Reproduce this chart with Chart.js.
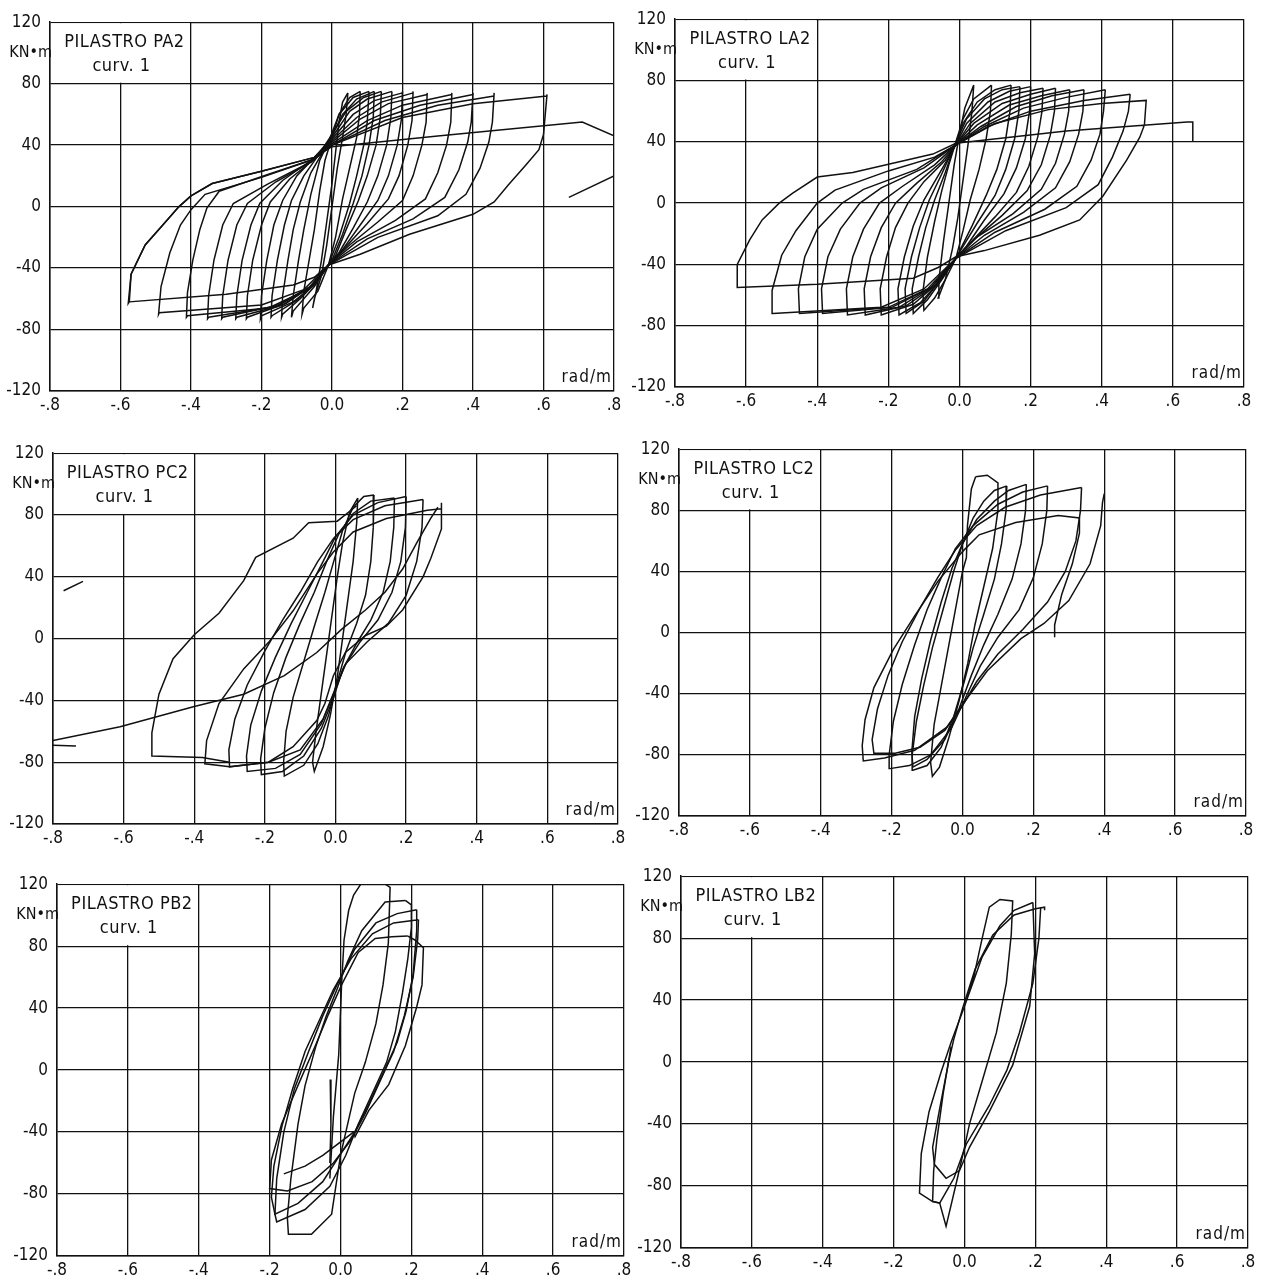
<!DOCTYPE html>
<html>
<head>
<meta charset="utf-8">
<script src="https://cdn.jsdelivr.net/npm/chart.js@4.4.0/dist/chart.umd.min.js"></script>
<style>
html, body { margin: 0; padding: 0; background: #fff; }
body { width: 1271px; height: 1283px; position: relative; overflow: hidden; }
.pan { position: absolute; }
</style>
</head>
<body>
<script>
// titoli e assi
var panelTitles = ["PILASTRO PA2", "PILASTRO LA2", "PILASTRO PC2", "PILASTRO LC2", "PILASTRO PB2", "PILASTRO LB2"];
var curveLabel = "curv. 1";
var xTickValues = [-0.8, -0.6, -0.4, -0.2, 0, 0.2, 0.4, 0.6, 0.8];
var xTickLabels = ["-.8", "-.6", "-.4", "-.2", "0.0", ".2", ".4", ".6", ".8"];
var yTickValues = [-120, -80, -40, 0, 40, 80, 120];
var yTickLabels = ["-120", "-80", "-40", "0", "40", "80", "120"];
var yUnit = "KN\u2022m";
var xUnit = "rad/m";

// cicli momento-curvatura [curvatura, momento]
var pa2Loops = [
  [[0.045,74],[0.04,60],[0.03,45],[0.015,25],[0.0,0],[-0.015,-25],[-0.03,-45],[-0.05,-60],[-0.055,-66],[-0.045,-55],[-0.03,-35],[-0.015,-10],[0.0,15],[0.01,35],[0.02,55],[0.03,68],[0.045,74]],
  [[0.08,75],[0.078,60],[0.07,45],[0.05,25],[0.03,5],[0.01,-20],[-0.01,-38],[-0.04,-55],[-0.08,-66],[-0.085,-70],[-0.08,-55],[-0.065,-35],[-0.05,-15],[-0.035,10],[-0.02,30],[0.0,45],[0.02,60],[0.05,71],[0.08,75]],
  [[0.105,75],[0.1,55],[0.09,40],[0.07,20],[0.05,2],[0.02,-20],[-0.01,-38],[-0.05,-52],[-0.11,-68],[-0.115,-72],[-0.11,-58],[-0.095,-35],[-0.08,-15],[-0.06,8],[-0.035,30],[-0.01,42],[0.02,60],[0.06,71],[0.105,75]],
  [[0.12,75],[0.117,58],[0.105,40],[0.085,20],[0.06,2],[0.03,-18],[0.0,-35],[-0.04,-48],[-0.09,-60],[-0.14,-70],[-0.143,-72],[-0.14,-58],[-0.125,-35],[-0.11,-15],[-0.09,3],[-0.06,22],[-0.03,34],[0.0,46],[0.03,60],[0.07,70],[0.12,75]],
  [[0.14,75],[0.137,58],[0.125,40],[0.1,20],[0.075,4],[0.04,-15],[0.01,-32],[-0.01,-38],[-0.05,-50],[-0.1,-61],[-0.17,-71],[-0.173,-72],[-0.17,-58],[-0.155,-35],[-0.135,-12],[-0.115,4],[-0.08,20],[-0.04,33],[0.0,47],[0.04,62],[0.09,71],[0.14,75]],
  [[0.17,75],[0.167,58],[0.155,40],[0.13,20],[0.1,3],[0.06,-14],[0.02,-30],[-0.01,-38],[-0.05,-51],[-0.11,-62],[-0.2,-71],[-0.203,-73],[-0.2,-58],[-0.185,-35],[-0.165,-12],[-0.14,4],[-0.1,20],[-0.05,32],[0.0,45],[0.05,62],[0.1,70],[0.17,75]],
  [[0.2,75],[0.197,57],[0.185,40],[0.16,20],[0.13,4],[0.08,-12],[0.03,-28],[-0.01,-38],[-0.06,-52],[-0.13,-63],[-0.24,-72],[-0.243,-73],[-0.24,-58],[-0.225,-35],[-0.2,-12],[-0.175,3],[-0.12,18],[-0.05,31],[0.0,44],[0.06,60],[0.12,69],[0.2,74]],
  [[0.23,75],[0.227,56],[0.215,40],[0.19,20],[0.16,5],[0.1,-11],[0.04,-26],[-0.01,-38],[-0.06,-52],[-0.14,-64],[-0.27,-72],[-0.273,-73],[-0.27,-58],[-0.255,-35],[-0.23,-12],[-0.205,2],[-0.14,17],[-0.06,30],[0.0,43],[0.07,58],[0.14,68],[0.23,74]],
  [[0.27,74],[0.267,55],[0.255,40],[0.23,20],[0.2,4],[0.13,-10],[0.05,-25],[-0.01,-38],[-0.06,-52],[-0.15,-64],[-0.31,-72],[-0.313,-73],[-0.31,-58],[-0.295,-35],[-0.27,-12],[-0.24,2],[-0.16,16],[-0.06,29],[0.0,42],[0.08,57],[0.16,67],[0.27,73]],
  [[0.34,74],[0.337,55],[0.325,40],[0.3,22],[0.265,5],[0.18,-9],[0.07,-23],[-0.01,-38],[-0.06,-52],[-0.16,-65],[-0.35,-72],[-0.353,-73],[-0.35,-58],[-0.335,-35],[-0.31,-12],[-0.28,2],[-0.18,15],[-0.06,29],[0.0,41],[0.1,56],[0.2,66],[0.34,73]],
  [[0.4,74],[0.395,55],[0.385,42],[0.36,24],[0.32,6],[0.23,-8],[0.1,-21],[-0.01,-38],[-0.07,-54],[-0.18,-66],[-0.41,-71],[-0.413,-72],[-0.41,-56],[-0.395,-35],[-0.375,-15],[-0.355,-1],[-0.32,10],[-0.18,21],[-0.05,31],[0.0,40],[0.12,56],[0.25,66],[0.4,73]],
  [[0.46,74],[0.455,55],[0.445,42],[0.42,25],[0.38,8],[0.3,-6],[0.13,-20],[-0.01,-38],[-0.08,-54],[-0.2,-64],[-0.49,-69],[-0.492,-70],[-0.485,-52],[-0.46,-30],[-0.43,-12],[-0.4,-2],[-0.36,8],[-0.2,19],[-0.05,31],[0.0,40],[0.15,56],[0.3,66],[0.46,72]],
  [[0.61,73],[0.605,60],[0.6,47],[0.587,37],[0.55,27],[0.5,14],[0.46,3],[0.4,-5],[0.22,-18],[0.08,-31],[-0.01,-38],[-0.05,-46],[-0.11,-51],[-0.3,-57],[-0.575,-62],[-0.578,-63],[-0.57,-44],[-0.53,-25],[-0.48,-12],[-0.434,0],[-0.4,7],[-0.34,15],[-0.2,23],[-0.05,32],[0.0,40],[0.2,58],[0.4,67],[0.61,72]],
  [[-0.575,-62],[-0.57,-44],[-0.53,-25],[-0.48,-12],[-0.434,0],[-0.4,7],[-0.34,15],[-0.2,23],[-0.05,32],[0.0,39],[0.3,46],[0.71,55],[0.8,46]],
  [[0.672,6],[0.8,20]]
];

var la2Loops = [
  [[0.04,77],[0.035,60],[0.025,40],[0.01,15],[-0.005,-10],[-0.02,-30],[-0.04,-50],[-0.06,-62],[-0.058,-50],[-0.045,-25],[-0.03,0],[-0.015,25],[0.0,45],[0.015,62],[0.04,77]],
  [[0.09,77],[0.087,60],[0.075,42],[0.055,22],[0.03,2],[0.01,-18],[-0.01,-36],[-0.04,-50],[-0.07,-62],[-0.1,-70],[-0.103,-58],[-0.09,-35],[-0.07,-12],[-0.05,8],[-0.03,25],[-0.01,40],[0.01,55],[0.04,68],[0.09,77]],
  [[0.145,77],[0.142,60],[0.13,42],[0.105,22],[0.075,5],[0.035,-15],[-0.01,-36],[-0.05,-50],[-0.09,-63],[-0.13,-72],[-0.133,-56],[-0.115,-35],[-0.095,-16],[-0.07,2],[-0.04,20],[-0.015,37],[0.01,52],[0.05,66],[0.1,74],[0.145,77]],
  [[0.17,76],[0.167,60],[0.155,42],[0.13,22],[0.1,5],[0.05,-13],[0.0,-32],[-0.01,-36],[-0.06,-52],[-0.1,-64],[-0.15,-72],[-0.153,-56],[-0.135,-35],[-0.112,-16],[-0.085,2],[-0.05,19],[-0.015,37],[0.02,55],[0.07,68],[0.12,74],[0.17,76]],
  [[0.2,76],[0.197,60],[0.185,42],[0.16,23],[0.125,6],[0.07,-11],[0.02,-28],[-0.01,-36],[-0.06,-52],[-0.11,-65],[-0.17,-73],[-0.173,-56],[-0.155,-35],[-0.13,-15],[-0.1,2],[-0.06,18],[-0.015,36],[0.02,52],[0.08,66],[0.14,73],[0.2,76]],
  [[0.235,75],[0.232,60],[0.22,43],[0.195,24],[0.16,7],[0.1,-9],[0.03,-26],[-0.01,-36],[-0.07,-54],[-0.13,-66],[-0.22,-73],[-0.223,-56],[-0.205,-35],[-0.18,-16],[-0.145,0],[-0.1,14],[-0.04,28],[-0.01,38],[0.03,52],[0.1,66],[0.17,72],[0.235,75]],
  [[0.27,75],[0.267,60],[0.255,44],[0.23,25],[0.19,8],[0.12,-8],[0.04,-24],[-0.01,-36],[-0.07,-54],[-0.15,-67],[-0.265,-73],[-0.268,-56],[-0.25,-35],[-0.22,-16],[-0.18,0],[-0.12,13],[-0.05,27],[-0.01,38],[0.04,52],[0.12,65],[0.2,71],[0.27,75]],
  [[0.31,74],[0.307,60],[0.295,45],[0.27,26],[0.23,9],[0.15,-7],[0.05,-22],[-0.01,-36],[-0.08,-55],[-0.17,-68],[-0.315,-73],[-0.318,-56],[-0.3,-35],[-0.27,-17],[-0.225,0],[-0.16,11],[-0.07,25],[-0.01,38],[0.05,51],[0.14,64],[0.23,70],[0.31,74]],
  [[0.35,74],[0.347,60],[0.335,45],[0.31,27],[0.27,10],[0.18,-6],[0.07,-21],[-0.01,-36],[-0.08,-55],[-0.19,-68],[-0.385,-72],[-0.388,-56],[-0.37,-35],[-0.335,-17],[-0.28,0],[-0.22,10],[-0.1,23],[-0.01,38],[0.06,50],[0.16,63],[0.26,70],[0.35,74]],
  [[0.41,74],[0.405,60],[0.395,45],[0.37,28],[0.33,11],[0.24,-4],[0.1,-19],[-0.01,-36],[-0.09,-56],[-0.2,-68],[-0.45,-72],[-0.453,-56],[-0.435,-35],[-0.4,-17],[-0.33,0],[-0.27,9],[-0.12,22],[-0.01,38],[0.07,50],[0.18,62],[0.3,69],[0.41,74]],
  [[0.48,71],[0.475,60],[0.46,47],[0.43,30],[0.39,12],[0.3,-3],[0.13,-18],[-0.01,-36],[-0.1,-56],[-0.22,-68],[-0.525,-72],[-0.527,-57],[-0.5,-34],[-0.46,-18],[-0.4,0],[-0.35,8.5],[-0.2,21],[-0.07,30],[-0.01,38],[0.08,50],[0.2,60],[0.35,67],[0.48,71]],
  [[-0.01,38],[0.1,52],[0.25,61],[0.4,65],[0.525,67],[0.52,51],[0.507,43],[0.47,28],[0.403,4.5],[0.338,-11],[0.225,-21],[0.07,-31],[-0.01,-35],[-0.06,-42],[-0.13,-49],[-0.4,-53],[-0.625,-55],[-0.625,-40],[-0.59,-24],[-0.555,-11],[-0.507,0],[-0.47,6.4],[-0.4,17],[-0.3,20],[-0.075,32],[-0.01,39],[0.3,47],[0.64,53],[0.656,53],[0.656,40]]
];

var pc2Loops = [
  [[0.063,91],[0.06,75],[0.05,50],[0.035,25],[0.02,0],[0.005,-25],[-0.015,-50],[-0.035,-70],[-0.06,-86],[-0.065,-80],[-0.055,-60],[-0.04,-35],[-0.025,-10],[-0.01,15],[0.005,40],[0.02,62],[0.04,82],[0.063,91]],
  [[0.109,93],[0.107,72],[0.1,50],[0.085,28],[0.06,10],[0.03,-8],[0.005,-28],[-0.02,-50],[-0.05,-68],[-0.09,-82],[-0.145,-89],[-0.147,-80],[-0.14,-60],[-0.12,-38],[-0.09,-15],[-0.06,8],[-0.03,30],[-0.005,50],[0.02,70],[0.05,85],[0.08,92],[0.109,93]],
  [[0.167,91],[0.165,72],[0.155,50],[0.135,30],[0.1,12],[0.06,-3],[0.02,-20],[-0.005,-38],[-0.04,-58],[-0.09,-76],[-0.15,-86],[-0.21,-88],[-0.212,-78],[-0.2,-58],[-0.175,-35],[-0.14,-12],[-0.1,10],[-0.06,30],[-0.025,50],[0.01,68],[0.05,81],[0.1,89],[0.167,91]],
  [[0.2,92],[0.198,72],[0.185,50],[0.16,30],[0.12,12],[0.07,-2],[0.025,-18],[-0.005,-36],[-0.04,-55],[-0.1,-75],[-0.17,-84],[-0.25,-86],[-0.252,-76],[-0.24,-56],[-0.21,-34],[-0.17,-12],[-0.125,10],[-0.08,30],[-0.035,50],[0.0,66],[0.05,80],[0.12,88],[0.2,92]],
  [[0.248,90],[0.245,72],[0.23,50],[0.2,28],[0.15,10],[0.09,-2],[0.03,-16],[0.0,-32],[-0.035,-52],[-0.1,-72],[-0.19,-80],[-0.3,-83],[-0.302,-72],[-0.285,-52],[-0.25,-30],[-0.2,-8],[-0.15,12],[-0.1,30],[-0.05,50],[-0.005,65],[0.05,77],[0.14,86],[0.248,90]],
  [[0.3,88],[0.3,71],[0.27,52],[0.248,40],[0.19,18.5],[0.144,8],[0.085,2],[0.028,-9],[-0.006,-24],[-0.03,-42],[-0.053,-53],[-0.12,-70],[-0.19,-80],[-0.3,-83],[-0.37,-81],[-0.365,-66],[-0.33,-42],[-0.26,-19.6],[-0.19,-2.6],[-0.12,18],[-0.053,41.7],[-0.006,56],[0.05,69],[0.144,77.7],[0.26,83],[0.3,84]],
  [[0.06,86],[0.005,76],[-0.076,75],[-0.12,65],[-0.226,52.6],[-0.26,37.5],[-0.33,16.4],[-0.4,2.5],[-0.46,-13],[-0.5,-36],[-0.52,-61],[-0.52,-76],[-0.377,-77],[-0.3,-80]],
  [[-0.8,-66],[-0.61,-57],[-0.4,-44],[-0.26,-36],[-0.145,-24],[-0.053,-9],[0.017,6],[0.085,18.5],[0.14,30],[0.19,45],[0.23,62],[0.27,78],[0.29,85]],
  [[-0.77,31],[-0.715,37]],
  [[-0.8,-69],[-0.735,-69.5]]
];

var lc2Loops = [
  [[0.037,102],[0.07,103],[0.1,98],[0.1,80],[0.085,55],[0.06,30],[0.035,5],[0.015,-20],[-0.01,-45],[-0.04,-70],[-0.065,-88],[-0.085,-94],[-0.09,-85],[-0.08,-60],[-0.06,-35],[-0.04,-10],[-0.02,15],[0.0,40],[0.011,49],[0.014,70],[0.025,94],[0.037,102]],
  [[0.125,96],[0.123,80],[0.11,58],[0.09,35],[0.06,12],[0.03,-10],[0.005,-32],[-0.025,-55],[-0.06,-75],[-0.1,-87],[-0.14,-90],[-0.142,-80],[-0.13,-58],[-0.11,-35],[-0.085,-10],[-0.055,15],[-0.025,40],[0.0,58],[0.03,75],[0.06,86],[0.09,93],[0.125,96]],
  [[0.18,97],[0.178,80],[0.165,58],[0.14,35],[0.1,12],[0.06,-8],[0.025,-28],[-0.01,-50],[-0.05,-70],[-0.1,-83],[-0.14,-88],[-0.143,-78],[-0.135,-55],[-0.115,-30],[-0.09,-5],[-0.06,20],[-0.03,42],[0.0,58],[0.04,74],[0.09,86],[0.13,93],[0.18,97]],
  [[0.24,96],[0.238,80],[0.225,58],[0.2,36],[0.16,15],[0.1,-3],[0.05,-22],[0.01,-42],[-0.03,-62],[-0.09,-80],[-0.15,-87],[-0.205,-89],[-0.207,-80],[-0.195,-58],[-0.17,-34],[-0.135,-8],[-0.1,15],[-0.06,36],[-0.02,55],[0.03,70],[0.1,84],[0.17,92],[0.24,96]],
  [[0.336,95],[0.333,80],[0.32,60],[0.29,40],[0.24,20],[0.17,2],[0.1,-14],[0.04,-32],[0.0,-48],[-0.05,-64],[-0.12,-75],[-0.19,-79],[-0.25,-79],[-0.255,-70],[-0.24,-50],[-0.21,-28],[-0.17,-6],[-0.12,16],[-0.07,36],[-0.02,54],[0.04,70],[0.12,82],[0.22,90],[0.336,95]],
  [[0.4,91],[0.395,85],[0.39,70],[0.36,45],[0.3,21],[0.23,6],[0.165,-4],[0.07,-25],[0.0,-47],[-0.045,-62],[-0.135,-77],[-0.22,-82],[-0.28,-84],[-0.283,-74],[-0.275,-57],[-0.25,-36],[-0.195,-11],[-0.135,11],[-0.068,34],[0.0,53],[0.047,64],[0.15,72],[0.27,76.6],[0.33,75],[0.33,65],[0.31,45],[0.28,25],[0.26,5],[0.26,-3]]
];

var pb2Loops = [
  [[-0.03,-70],[-0.02,-30],[-0.005,10],[0.003,55],[0.01,84],[0.023,103],[0.037,113],[0.06,121],[0.12,121],[0.14,118],[0.135,82],[0.12,55],[0.1,30],[0.07,5],[0.04,-15],[0.02,-35],[0.0,-55],[-0.025,-93],[-0.082,-106],[-0.147,-106],[-0.15,-95],[-0.14,-70],[-0.12,-35],[-0.1,-10],[-0.07,15],[-0.04,35],[-0.01,52],[0.02,70],[0.06,90],[0.126,108.5],[0.183,109.5]],
  [[0.183,109.5],[0.2,106.6],[0.2,92],[0.19,72],[0.175,50],[0.155,25],[0.13,5],[0.09,-15],[0.05,-35],[0.015,-55],[-0.03,-75],[-0.1,-90],[-0.18,-98],[-0.185,-93],[-0.18,-70],[-0.16,-40],[-0.13,-12],[-0.09,12],[-0.05,35],[-0.01,55],[0.04,78],[0.1,95],[0.16,101],[0.215,103.5]],
  [[0.215,103.5],[0.215,90],[0.205,62],[0.185,38],[0.16,18],[0.12,-2],[0.08,-22],[0.04,-40],[-0.005,-56],[-0.05,-72],[-0.12,-86],[-0.185,-93],[-0.195,-82],[-0.188,-62],[-0.165,-36],[-0.135,-12],[-0.1,12],[-0.06,32],[-0.02,52],[0.03,72],[0.09,88],[0.15,95],[0.22,97]],
  [[0.22,97],[0.218,85],[0.205,60],[0.18,35],[0.15,12],[0.11,-8],[0.07,-28],[0.03,-45],[-0.02,-60],[-0.08,-72],[-0.15,-78],[-0.2,-76.5],[-0.195,-58],[-0.166,-34.6],[-0.119,-9.4],[-0.071,15.7],[-0.034,36],[0.003,55],[0.05,76],[0.098,85],[0.145,86],[0.19,86.5]],
  [[0.19,86.5],[0.21,84],[0.234,79],[0.23,55],[0.215,40.7],[0.183,15.7],[0.136,-9.4],[0.08,-26],[0.041,-43],[0.037,-40],[-0.05,-55],[-0.1,-62],[-0.16,-67]],
  [[-0.029,-6],[-0.027,-35],[-0.03,-60]]
];

var lb2Loops = [
  [[-0.038,12.7],[0.0,36],[0.028,57],[0.05,80],[0.07,100],[0.1,105],[0.136,104],[0.132,82.5],[0.118,51],[0.09,19],[0.052,-10.6],[0.014,-40],[0.0,-55],[-0.02,-75],[-0.052,-106],[-0.07,-91],[-0.09,-90],[-0.127,-84.5],[-0.122,-59],[-0.1,-32],[-0.066,-6.4],[-0.038,12.7],[0.0,36],[0.05,68],[0.1,88],[0.14,98],[0.193,103]],
  [[0.193,103],[0.198,70],[0.184,36],[0.136,-2],[0.07,-32],[0.014,-55],[-0.014,-70],[-0.052,-75],[-0.085,-66],[-0.09,-55],[-0.07,-30],[-0.045,0],[-0.03,15],[-0.005,35],[0.03,60],[0.08,82],[0.14,95],[0.2,99],[0.226,100],[0.226,98]],
  [[0.215,100],[0.21,80],[0.193,51],[0.155,19],[0.12,-5],[0.07,-28],[0.005,-53],[-0.03,-75],[-0.07,-91],[-0.09,-90],[-0.087,-70],[-0.078,-50],[-0.06,-20],[-0.038,10]]
];

var INK = '#111';
var FONT = "'DejaVu Sans Condensed', 'Liberation Sans Narrow', 'DejaVu Sans', sans-serif";
var AXW = 52, AXH = 32, PADT = 12, PADR = 12;

// riquadri dei sei grafici sulla pagina
var panels = [
  { title: panelTitles[0], loops: pa2Loops, box: { l: 50, t: 15, r: 614, b: 391 } },
  { title: panelTitles[1], loops: la2Loops, box: { l: 675, t: 12, r: 1244, b: 387 } },
  { title: panelTitles[2], loops: pc2Loops, box: { l: 53, t: 446, r: 618, b: 824 } },
  { title: panelTitles[3], loops: lc2Loops, box: { l: 679, t: 442, r: 1246, b: 816 } },
  { title: panelTitles[4], loops: pb2Loops, box: { l: 57, t: 877, r: 624, b: 1256 } },
  { title: panelTitles[5], loops: lb2Loops, box: { l: 681, t: 869, r: 1248, b: 1248 } }
];

// riquadro bianco con il titolo in alto a sinistra
var labelBox = {
  id: 'labelBox',
  beforeDatasetsDraw: function(chart, args, opts) {
    var xs = chart.scales.x, ys = chart.scales.y, ctx = chart.ctx;
    var x0 = xs.getPixelForValue(-0.8), x1 = xs.getPixelForValue(-0.4);
    var y0 = ys.getPixelForValue(120), y1 = ys.getPixelForValue(80);
    ctx.save();
    ctx.fillStyle = '#fff';
    ctx.fillRect(x0 + 1, y0 + 1, x1 - x0 - 2, y1 - y0 - 2);
    ctx.fillStyle = INK;
    ctx.textAlign = 'center';
    ctx.textBaseline = 'middle';
    ctx.font = '18px ' + FONT;
    ctx.letterSpacing = '0.5px';
    var cx = xs.getPixelForValue(-0.6) + 4;
    ctx.fillText(opts.title, cx, y0 + 20);
    ctx.fillText(curveLabel, cx - 3, y0 + 44);
    ctx.restore();
  },
  afterDraw: function(chart) {
    var a = chart.chartArea, ctx = chart.ctx;
    ctx.save();
    ctx.fillStyle = INK;
    ctx.font = '16px ' + FONT;
    ctx.textBaseline = 'middle';
    ctx.textAlign = 'right';
    ctx.fillText(yUnit, a.left + 2, a.top + 31);
    ctx.font = '17px ' + FONT;
    ctx.letterSpacing = '1px';
    ctx.fillText(xUnit, a.right - 2, a.bottom - 13);
    ctx.restore();
  }
};

panels.forEach(function(p) {
  var b = p.box;
  var w = (b.r - b.l) + AXW + PADR, h = (b.b - b.t) + PADT + AXH;
  var div = document.createElement('div');
  div.className = 'pan';
  div.style.left = (b.l - AXW) + 'px';
  div.style.top = (b.t - PADT) + 'px';
  div.style.width = w + 'px';
  div.style.height = h + 'px';
  var cv = document.createElement('canvas');
  cv.width = w; cv.height = h;
  cv.style.width = w + 'px'; cv.style.height = h + 'px';
  div.appendChild(cv);
  document.body.appendChild(div);

  new Chart(cv, {
    type: 'scatter',
    data: {
      datasets: p.loops.map(function(loop) {
        return {
          data: loop.map(function(pt) { return { x: pt[0], y: pt[1] }; }),
          showLine: true,
          borderColor: INK,
          borderWidth: 1.5,
          pointRadius: 0,
          tension: 0,
          fill: false
        };
      })
    },
    options: {
      responsive: false,
      devicePixelRatio: 1,
      animation: false,
      events: [],
      layout: { padding: { top: PADT, right: PADR, left: 0, bottom: 0 } },
      plugins: {
        legend: { display: false },
        tooltip: { enabled: false },
        labelBox: { title: p.title }
      },
      scales: {
        x: {
          type: 'linear', min: -0.8, max: 0.8,
          afterBuildTicks: function(s) { s.ticks = xTickValues.map(function(v) { return { value: v }; }); },
          afterFit: function(s) { s.height = AXH; },
          grid: { color: INK, lineWidth: 1.3, drawTicks: false },
          border: { color: INK, width: 1.5 },
          ticks: {
            color: INK, padding: 4, maxRotation: 0, autoSkip: false,
            font: { family: FONT, size: 17 },
            callback: function(v, i) { return xTickLabels[i]; }
          }
        },
        y: {
          type: 'linear', min: -120, max: 120,
          afterBuildTicks: function(s) { s.ticks = yTickValues.map(function(v) { return { value: v }; }); },
          afterFit: function(s) { s.width = AXW; },
          grid: { color: INK, lineWidth: 1.3, drawTicks: false },
          border: { color: INK, width: 1.5 },
          ticks: {
            color: INK, padding: 9, autoSkip: false,
            font: { family: FONT, size: 17 },
            callback: function(v, i) { return yTickLabels[i]; }
          }
        }
      }
    },
    plugins: [labelBox]
  });
});
</script>
</body>
</html>
